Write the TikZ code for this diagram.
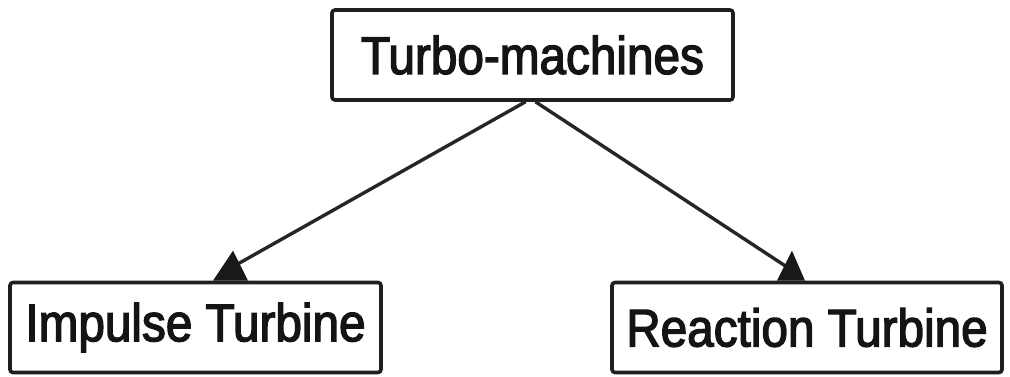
\documentclass[tikz,border=0pt]{standalone}
\usepackage{fontspec}
\setmainfont[FakeStretch=0.9,FakeBold=2.5]{Liberation Sans}
\usetikzlibrary{calc}
\begin{document}
\begin{tikzpicture}[x=1pt,y=-1pt,
  box/.style={draw=black!88,line width=3.6pt,rounded corners=3pt,inner sep=0pt,
    font=\fontsize{53}{60}\selectfont,text=black!92},
  conn/.style={line width=3.4pt,draw=black!85},
  tip/.style={fill=black!90}]
\useasboundingbox (0,0) rectangle (1010,377);
\node[box,minimum width=401pt,minimum height=90pt] (top) at (532.5,55) {Turbo-machines};
\node[box,minimum width=371pt,minimum height=90pt] (left) at (195.5,327.5) {Impulse Turbine};
\node[box,minimum width=390pt,minimum height=90pt] (right) at (807,327.5) {Reaction Turbine};
% arrow ends
\coordinate (la) at ($(left.north)+(37.5,-30)$);
\coordinate (lb1) at ($(left.north)+(17.5,0)$);
\coordinate (lb2) at ($(left.north)+(52.5,0)$);
\coordinate (le) at ($(left.north)+(41,-16)$);
\coordinate (ra) at ($(right.north)+(-15,-30)$);
\coordinate (rb1) at ($(right.north)+(-30,0)$);
\coordinate (rb2) at ($(right.north)+(-2,0)$);
\coordinate (re) at ($(right.north)+(-19,-13)$);
\draw[conn] ($(top.south)+(-7,0)$) -- (le);
\draw[conn] ($(top.south)+(3,0)$) -- (re);
\fill[tip] (la) -- (lb2) -- (lb1) -- cycle;
\fill[tip] (ra) -- (rb2) -- (rb1) -- cycle;
\end{tikzpicture}
\end{document}
